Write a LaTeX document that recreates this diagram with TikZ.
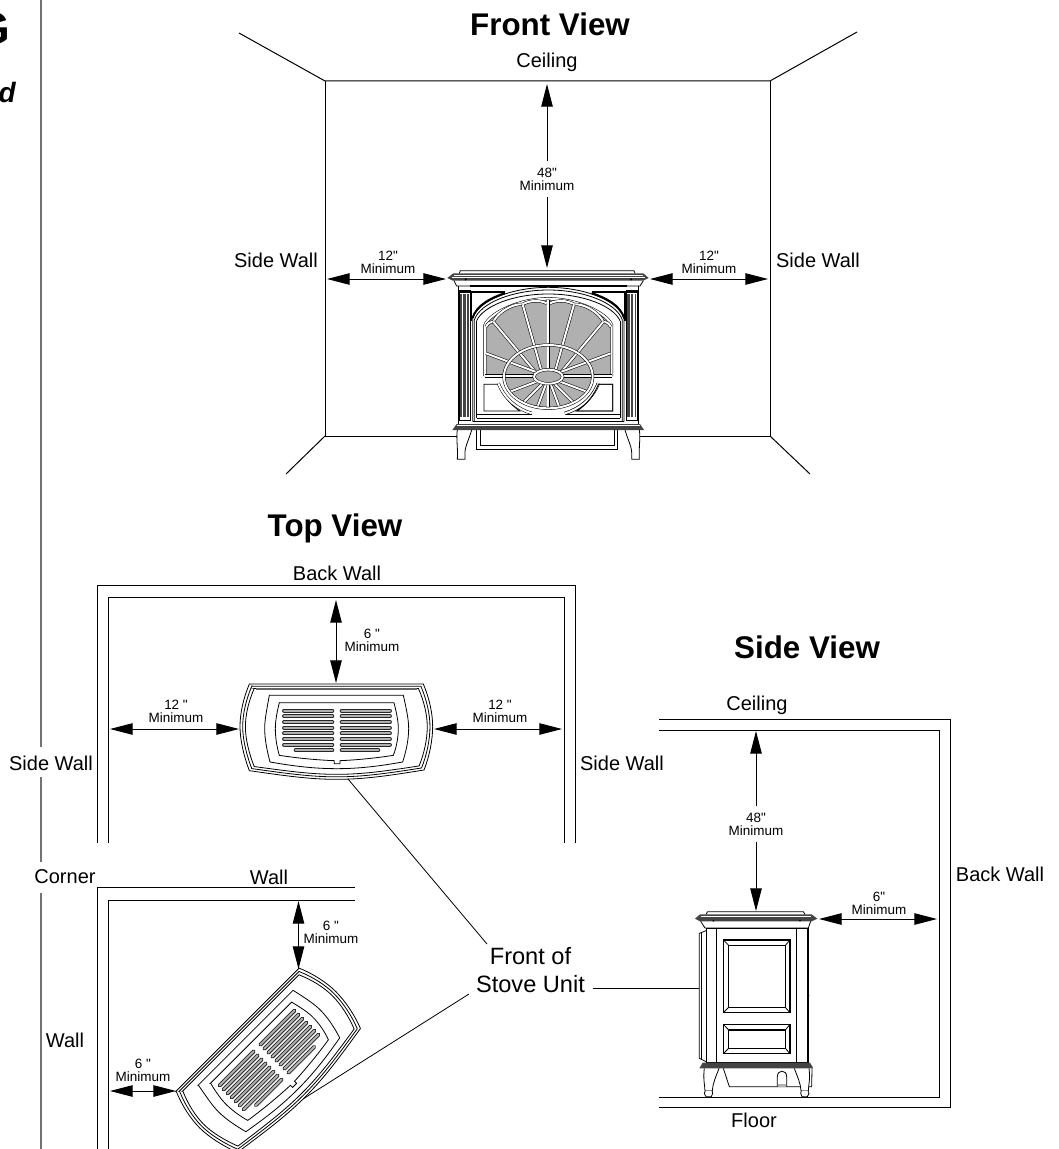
\documentclass[tikz,border=0pt]{standalone}
\usepackage{fontspec}
\setmainfont{Liberation Sans}[Ligatures=TeXOff]
\usetikzlibrary{arrows.meta}
\definecolor{glass}{HTML}{B0B0B0}
\definecolor{darkp}{HTML}{444444}
\tikzset{
  wall/.style={line width=.75pt,black},
  rule/.style={line width=1pt,black!55},
  dim/.style={line width=.75pt,{Triangle[length=17pt,width=8.6pt]}-{Triangle[length=17pt,width=8.6pt]}},
  dimone/.style={line width=.75pt,-{Triangle[length=17pt,width=8.6pt]}},
  leader/.style={line width=.6pt},
  lab/.style={font=\fontsize{15}{17}\selectfont,inner sep=1pt},
  small/.style={font=\fontsize{10.1}{9.7}\selectfont,align=center,inner sep=1pt},
  viewt/.style={font=\fontsize{23.5}{27}\selectfont\bfseries,inner sep=1pt},
  ol/.style={line width=.6pt},
  rib/.style={line width=.4pt,double=white,double distance=1.5pt},
  slot/.style={line width=2.9pt,line cap=round,black!85},
  slotin/.style={line width=1.5pt,line cap=round,glass},
}
% ---------- stove seen from above, local units = 1/3 px
\newcommand{\TopOutline}{(88,42) -- (610,42) .. controls (628,85) and (638,130) .. (638,170) .. controls (638,210) and (628,260) .. (612,300) .. controls (500,318) and (430,328) .. (350,328) .. controls (270,328) and (200,318) .. (88,302) .. controls (72,260) and (60,210) .. (60,170) .. controls (60,130) and (70,85) .. cycle}
\newcommand{\TopStove}{%
  \draw[ol,fill=white] \TopOutline;
  \begin{scope}[shift={(349,178)},xscale=.972,yscale=.95,shift={(-349,-178)}]\draw[ol] \TopOutline;\end{scope}
  \begin{scope}[shift={(349,178)},xscale=.944,yscale=.9,shift={(-349,-178)}]\draw[ol] \TopOutline;\end{scope}
  \draw[ol] (148,76) -- (550,76) .. controls (560,120) and (566,150) .. (566,175) .. controls (566,210) and (558,245) .. (548,276) .. controls (480,288) and (420,296) .. (350,296) .. controls (280,296) and (220,288) .. (150,276) .. controls (142,245) and (134,210) .. (134,175) .. controls (134,150) and (140,120) .. cycle;
  \draw[ol] (178,98) -- (522,98) .. controls (530,130) and (535,155) .. (535,175) .. controls (535,200) and (530,230) .. (520,256) .. controls (470,264) and (410,270) .. (360,272) -- (360,281) -- (343,281) -- (343,272) .. controls (290,270) and (230,264) .. (178,256) .. controls (170,230) and (166,200) .. (166,175) .. controls (166,155) and (170,130) .. cycle;
  \foreach \y in {122,139,156,173,190,207,224} {
    \draw[slot] (192,\y) -- (337,\y); \draw[slotin] (192,\y) -- (337,\y);
    \draw[slot] (365,\y) -- (510,\y); \draw[slotin] (365,\y) -- (510,\y);
  }
  \draw[slot] (227,241) -- (337,241); \draw[slotin] (227,241) -- (337,241);
  \draw[slot] (365,241) -- (475,241); \draw[slotin] (365,241) -- (475,241);
}
% ---------- half of the front elevation (left half, mirrored about x=355)
\newcommand{\FrontHalf}{%
  % pillar
  \draw[ol] (88,122) rectangle (120,510);
  \fill[darkp] (91,132) rectangle (96,500);
  \fill[darkp] (100,132) rectangle (107,500);
  \fill[darkp] (111,132) rectangle (118,500);
  \draw[line width=1pt] (88,126) -- (120,126);
  % spandrel
  \draw[line width=1.1pt] (225,126) -- (125,126) -- (125,212);
  \draw[line width=1.5pt] (225,129) .. controls (180,145) and (140,165) .. (127,205);
  % leg
  \draw[ol,fill=white] (82,540) .. controls (78,565) and (84,590) .. (82,628) -- (105,628) -- (105,607) .. controls (105,590) and (118,565) .. (125,540);
  % lower panel
  \draw[ol] (162,403) -- (205,403) .. controls (215,430) and (240,465) .. (270,483) -- (162,483) -- cycle;
  \draw[ol] (140,505) -- (140,212);
  \draw[ol] (140,492) -- (305,492);
  % outer rim of the round panel
  \draw[rib] (205,400) .. controls (225,450) and (265,478) .. (305,490);
}
\begin{document}
\begin{tikzpicture}[x=.75pt,y=-.75pt,line join=miter]
\useasboundingbox (0,0) rectangle (1059,1149);
\clip (0,0) rectangle (1059,1149);

% cut-off page text at the left
\node[anchor=base east,inner sep=0pt,font=\fontsize{34.5}{36}\selectfont\bfseries] (pageG) at (11,45) {G};
\node[anchor=base east,inner sep=0pt,font=\fontsize{21}{24}\selectfont\bfseries\itshape] (paged) at (16,103) {d};
\draw[rule] (41,0) -- (41,747);
\draw[rule] (41,777) -- (41,862);
\draw[rule] (41,893) -- (41,1149);

% ================= FRONT VIEW
\node[viewt] (tfront) at (550,24) {Front View};
\draw[wall] (239,33) -- (325,81) -- (770,81) -- (857,32);
\draw[wall] (325,81) -- (325,436) -- (457,436);
\draw[wall] (770,81) -- (770,436) -- (638,436);
\draw[wall] (325,436) -- (286,474);
\draw[wall] (770,436) -- (810,474);
\node[lab] (fceil) at (547,62) {Ceiling};
\node[lab] (fsl) at (276,260) {Side Wall};
\node[lab] (fsr) at (818,260) {Side Wall};
\node[small,inner sep=5pt] (f48) at (547,179) {48"\\Minimum};
\coordinate (fctop) at (547,84);
\coordinate (fstop) at (547,268);
\draw[dimone] (f48) -- (fctop);
\draw[dimone] (f48) -- (fstop);
\node[small] (f12l) at (388,262) {12"\\Minimum};
\node[small] (f12r) at (709,262) {12"\\Minimum};
\coordinate (fa1) at (327,279); \coordinate (fa2) at (446,279);
\coordinate (fa3) at (650,279); \coordinate (fa4) at (768,279);
\draw[dim] (fa1) -- (fa2);
\draw[dim] (fa3) -- (fa4);

\begin{scope}[shift={(430,250)},scale=1/3]
  \FrontHalf
  \begin{scope}[shift={(710,0)},xscale=-1]\FrontHalf\end{scope}
  % top
  \draw[ol,fill=white] (88,70) -- (91,62) -- (612,62) -- (615,70);
  \fill[darkp] (70,70) -- (640,70) -- (656,84) -- (640,92) -- (68,92) -- (52,84) -- cycle;
  \draw[white,line width=.4pt] (72,75) -- (638,75);
  \draw[white,line width=.4pt] (66,82) -- (645,82);
  \draw[ol] (72,92) -- (80,108) -- (630,108) -- (640,92);
  \fill (107,88) circle (3.5); \fill (603,88) circle (3.5);
  \draw[ol] (85,108) -- (85,522);
  \draw[ol] (625,108) -- (625,522);
  \draw[line width=.9pt] (120,108) -- (590,108);
  % arch
  \draw[ol] (128,515) -- (128,205) .. controls (145,150) and (250,112) .. (355,112) .. controls (460,112) and (565,150) .. (582,205) -- (582,515);
  \draw[ol] (133,515) -- (133,210) .. controls (150,158) and (250,120) .. (355,120) .. controls (460,120) and (560,158) .. (577,210) -- (577,515);
  \draw[ol] (140,212) .. controls (160,168) and (250,132) .. (355,132) .. controls (460,132) and (550,168) .. (570,212);
  \draw[ol] (128,515) -- (582,515);
  \draw[ol] (140,505) -- (570,505);
  % glass
  \fill[glass] (170,378) -- (170,225) .. controls (185,190) and (270,146) .. (355,146) .. controls (440,146) and (525,190) .. (540,225) -- (540,378) -- cycle;
  \fill[glass] (355,380) ellipse [x radius=133,y radius=95];
  \draw[rib] (165,378) -- (165,225) .. controls (180,188) and (270,146) .. (355,146) .. controls (440,146) and (530,188) .. (545,225) -- (545,378);
  % petal tips
  \draw[rib] (190,215) .. controls (205,185) and (250,160) .. (278,163) .. controls (300,150) and (330,150) .. (350,160);
  \draw[rib] (520,215) .. controls (505,185) and (460,160) .. (432,163) .. controls (410,150) and (380,150) .. (360,160);
  \draw[rib] (168,230) .. controls (175,218) and (182,215) .. (190,215);
  \draw[rib] (542,230) .. controls (535,218) and (528,215) .. (520,215);
  % ribs
  \foreach \a/\b/\c/\d in {355/150/355/360,278/163/333/358,432/163/377/358,190/215/313/362,520/215/397/362,168/310/318/366,542/310/392/366,165/378/312/378,545/378/398/378,
     240/425/322/394,280/458/336/402,322/472/347/405,355/476/355/404,388/472/363/405,430/458/374/402,470/425/388/394}
    {\draw[rib] (\a,\b) -- (\c,\d);}
  \draw[rib] (355,380) ellipse [x radius=133,y radius=95];
  \draw[rib,fill=glass] (355,380) ellipse [x radius=43,y radius=21];
  \draw[rib] (505,400) .. controls (485,450) and (445,478) .. (405,490);
  % lower panel edges
  \draw[ol] (548,403) -- (505,403) .. controls (495,430) and (470,465) .. (440,483) -- (548,483) -- cycle;
  % base and skirt
  \draw[ol,fill=white] (140,540) -- (140,597) -- (562,597) -- (562,540);
  \draw[ol] (150,540) -- (150,587) -- (552,587) -- (552,540);
  \fill[darkp] (80,522) -- (630,522) -- (642,540) -- (67,540) -- cycle;
  \draw[white,line width=.4pt] (80,527) -- (630,527);
\end{scope}

% ================= TOP VIEW
\node[viewt] (ttop) at (335,528) {Top View};
\node[lab] (tback) at (337,573) {Back Wall};
\draw[wall] (97.5,843) -- (97.5,585) -- (575,585) -- (575,843);
\draw[wall] (108.5,843) -- (108.5,597) -- (564,597) -- (564,843);
\node[lab] (tsl) at (51,763) {Side Wall};
\node[lab] (tsr) at (622,763) {Side Wall};
\begin{scope}[shift={(220,670)},scale=1/3]
  \TopStove
  \draw[line width=1.4pt,black!60] (108,58) -- (590,58);
\end{scope}
\coordinate (ta1) at (336,600); \coordinate (ta2) at (336,683);
\coordinate (ta3) at (110,729); \coordinate (ta4) at (239,729);
\coordinate (ta5) at (434,729); \coordinate (ta6) at (562,729);
\draw[dim] (ta1) -- (ta2);
\draw[dim] (ta3) -- (ta4);
\draw[dim] (ta5) -- (ta6);
\node[small] (t6) at (372,640) {6 "\\Minimum};
\node[small] (t12l) at (176,711) {12 "\\Minimum};
\node[small] (t12r) at (500,711) {12 "\\Minimum};

% ================= CORNER PLAN
\node[lab] (ccorner) at (65,877) {Corner};
\node[lab] (cwalltop) at (269,877) {Wall};
\node[lab] (cwallside) at (65,1040) {Wall};
\draw[wall] (97.5,1149) -- (97.5,887) -- (355,887);
\draw[wall] (108.5,1149) -- (108.5,900) -- (355,900);
\begin{scope}[shift={(145.5,1102)},rotate=45,scale=1/3]
  \TopStove
\end{scope}
\coordinate (ca1) at (298.5,901); \coordinate (ca2) at (298.5,969);
\coordinate (ca3) at (110,1091); \coordinate (ca4) at (176,1091);
\draw[dim] (ca1) -- (ca2);
\draw[dim] (ca3) -- (ca4);
\node[small] (c6a) at (331,932) {6 "\\Minimum};
\node[small] (c6b) at (143,1070) {6 "\\Minimum};

% ================= SIDE VIEW
\node[viewt] (tside) at (807,647) {Side View};
\node[lab] (sceil) at (757,705) {Ceiling};
\node[lab] (sback) at (1000,874) {Back Wall};
\node[lab] (sfloor) at (754,1120) {Floor};
\draw[wall] (659,719) -- (950,719) -- (950,1107.5) -- (659,1107.5);
\draw[wall] (659,730) -- (939,730) -- (939,1097) -- (659,1097);
\node[small,inner sep=5pt] (s48) at (756,824) {48"\\Minimum};
\coordinate (sctop) at (756,731);
\coordinate (sstop) at (756,911);
\draw[dimone] (s48) -- (sctop);
\draw[dimone] (s48) -- (sstop);
\coordinate (sa1) at (819,919); \coordinate (sa2) at (937,919);
\draw[dim] (sa1) -- (sa2);
\node[small] (s6) at (879,903) {6"\\Minimum};
\begin{scope}[shift={(680,900)},scale=1/3]
  % door side
  \draw[ol] (78,92) -- (58,100) -- (58,475) -- (78,485);
  \draw[ol] (64,98) -- (64,478);
  % body
  \draw[ol,fill=white] (78,84) rectangle (382,488);
  \draw[ol] (110,84) -- (110,488);
  \draw[ol] (350,84) -- (350,488);
  \draw[ol] (386,84) -- (386,488);
  \fill (386,285) circle (2.5);
  % panels
  \draw[line width=.8pt] (130,120) rectangle (330,338);
  \draw[line width=.8pt] (146,136) rectangle (316,322);
  \draw[ol] (130,120) -- (146,136) (330,120) -- (316,136) (130,338) -- (146,322) (330,338) -- (316,322);
  \draw[line width=.8pt] (130,373) rectangle (330,461);
  \draw[line width=.8pt] (146,390) rectangle (316,445);
  \draw[ol] (130,373) -- (146,390) (330,373) -- (316,390) (130,461) -- (146,445) (330,461) -- (316,445);
  % top
  \draw[ol,fill=white] (78,43) -- (83,35) -- (370,35) -- (375,43);
  \fill[darkp] (60,43) -- (395,43) -- (412,56) -- (395,64) -- (60,64) -- (45,56) -- cycle;
  \draw[white,line width=.4pt] (62,50) -- (393,50);
  \draw[ol] (62,64) -- (75,84) -- (385,84) -- (392,64);
  \fill (100,62) circle (3); \fill (360,62) circle (3);
  % box under the base
  \draw[ol] (130,505) -- (148,560) -- (395,560) -- (396,505);
  \draw[ol] (292,560) -- (292,530) .. controls (292,508) and (320,508) .. (320,530) -- (320,560);
  \fill[glass] (293,552) rectangle (319,560);
  % legs
  \draw[ol,fill=white] (73,505) .. controls (69,535) and (74,555) .. (75,572) -- (97,572) .. controls (98,550) and (108,530) .. (117,505);
  \draw[ol,fill=white] (76,572) -- (73,580) -- (78,590) -- (94,590) -- (98,580) -- (96,572);
  \draw[ol,fill=white] (387,505) .. controls (391,535) and (386,555) .. (385,572) -- (363,572) .. controls (362,550) and (352,530) .. (343,505);
  \draw[ol,fill=white] (384,572) -- (387,580) -- (382,590) -- (366,590) -- (362,580) -- (364,572);
  % base
  \fill[darkp] (68,488) -- (390,488) -- (400,505) -- (58,505) -- cycle;
\end{scope}

% ================= FRONT OF STOVE LABEL
\node[align=center,inner sep=1pt,font=\fontsize{17.7}{21.5}\selectfont] (front) at (530.5,970) {Front of\\Stove Unit};
\coordinate (l1) at (348,779);
\coordinate (l2) at (487,944);
\coordinate (l3) at (469,994);
\coordinate (l4) at (303,1099);
\coordinate (l5) at (593,988);
\coordinate (l6) at (699,988);
\draw[leader] (l1) -- (l2);
\draw[leader] (l3) -- (l4);
\draw[leader] (l5) -- (l6);
\end{tikzpicture}
\end{document}
